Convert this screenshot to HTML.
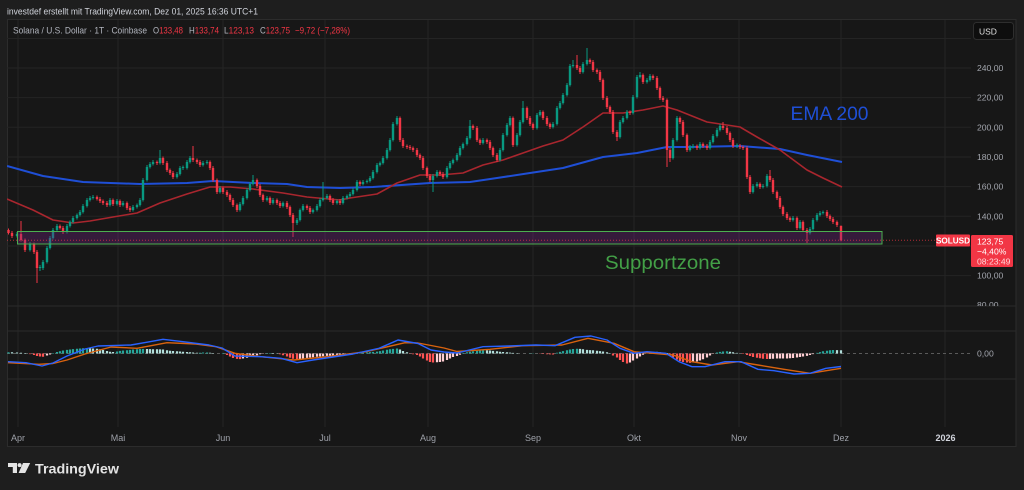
<!DOCTYPE html>
<html><head><meta charset="utf-8">
<style>
html,body{margin:0;padding:0;background:#1e1e1e;}
svg{display:block;font-family:"Liberation Sans",sans-serif;}
</style></head>
<body>
<svg width="1024" height="490" viewBox="0 0 1024 490" xmlns="http://www.w3.org/2000/svg">
<defs>
<clipPath id="mp"><rect x="7" y="20" width="964" height="286"/></clipPath>
<clipPath id="ax"><rect x="971" y="20" width="45" height="286"/></clipPath>
</defs>
<rect x="0" y="0" width="1024" height="490" fill="#1e1e1e"/>
<rect x="7.5" y="19.5" width="1008.5" height="427" fill="#171717" stroke="#2c2c2c" stroke-width="1"/>

<g stroke="#242424" stroke-width="1">
<line x1="18" y1="20" x2="18" y2="427"/>
<line x1="118" y1="20" x2="118" y2="427"/>
<line x1="223" y1="20" x2="223" y2="427"/>
<line x1="325" y1="20" x2="325" y2="427"/>
<line x1="428" y1="20" x2="428" y2="427"/>
<line x1="533" y1="20" x2="533" y2="427"/>
<line x1="634" y1="20" x2="634" y2="427"/>
<line x1="739" y1="20" x2="739" y2="427"/>
<line x1="841" y1="20" x2="841" y2="427"/>
<line x1="945" y1="20" x2="945" y2="427"/>
</g>
<g stroke="#242424" stroke-width="1">
<line x1="7" y1="38.5" x2="971" y2="38.5"/>
<line x1="7" y1="68" x2="971" y2="68"/>
<line x1="7" y1="97.6" x2="971" y2="97.6"/>
<line x1="7" y1="127.3" x2="971" y2="127.3"/>
<line x1="7" y1="157" x2="971" y2="157"/>
<line x1="7" y1="186.6" x2="971" y2="186.6"/>
<line x1="7" y1="216.3" x2="971" y2="216.3"/>
<line x1="7" y1="246" x2="971" y2="246"/>
<line x1="7" y1="275.6" x2="971" y2="275.6"/>
</g>
<g stroke="#2b2b2b" stroke-width="1">
<line x1="7" y1="306" x2="1016" y2="306"/>
<line x1="7" y1="331" x2="1016" y2="331"/>
<line x1="7" y1="379" x2="1016" y2="379"/>
</g>

<text x="7" y="14.5" font-size="9.2" fill="#d1d4dc" textLength="251" lengthAdjust="spacingAndGlyphs">investdef erstellt mit TradingView.com, Dez 01, 2025 16:36 UTC+1</text>
<text x="13" y="33.5" font-size="9.2" fill="#b2b5be" textLength="134" lengthAdjust="spacingAndGlyphs">Solana / U.S. Dollar · 1T · Coinbase</text>
<g font-size="9.2" fill="#f23645">
<text x="153" y="33.5" textLength="30" lengthAdjust="spacingAndGlyphs"><tspan fill="#b2b5be">O</tspan>133,48</text>
<text x="189" y="33.5" textLength="30" lengthAdjust="spacingAndGlyphs"><tspan fill="#b2b5be">H</tspan>133,74</text>
<text x="224" y="33.5" textLength="30" lengthAdjust="spacingAndGlyphs"><tspan fill="#b2b5be">L</tspan>123,13</text>
<text x="260" y="33.5" textLength="30" lengthAdjust="spacingAndGlyphs"><tspan fill="#b2b5be">C</tspan>123,75</text>
<text x="295" y="33.5" textLength="55" lengthAdjust="spacingAndGlyphs">−9,72 (−7,28%)</text>
</g>

<g clip-path="url(#mp)" fill="none" stroke-linejoin="round">
<polyline stroke="#1f4fd6" stroke-width="2" points="7,166 43,176 83,182 140,184 187,183 213,181 253,183 287,184 307,187 340,188 373,187 430,183 470,182 497,178 530,173 563,168 603,157 637,153 667,147 690,147 740,146 780,149 807,155 842,162"/>
<polyline stroke="#a9262e" stroke-width="1.6" points="7,199 33,210 53,220 73,223 90,221 113,217 137,213 160,203 187,194 210,187 230,187 253,189 283,193 307,197 340,200 350,198 377,194 397,183 420,175 440,175 463,173 483,165 503,160 523,153 543,146 563,140 583,127 603,113 623,113 643,110 663,106 677,110 707,122 740,127 757,137 780,150 807,170 823,178 842,187"/>
</g>

<g clip-path="url(#mp)" fill="none">
<path stroke="#089981" stroke-width="1" d="M17 232V237.5M30 242V251.5M40 265V271M43 260V270M47 246V263.5M50 236V249.5M53 228V239.5M57 224V231.5M67 224V233.5M70 220.5V227.5M73 216V223.5M77 213.5V219.5M80 210V216.5M83 204V213.5M87 198V207.5M90 196V201.5M93 195V199.5M110 198V206.5M117 199V205.5M123 201V206.5M133 205V211.5M137 203.5V208.5M140 198V206.5M143 178V201.5M147 165V181.5M150 162V168.5M153 160V165.5M160 150V164.5M177 172V178.5M180 166V175.5M183 165.5V170M187 160V169.5M190 156V163.5M203 161V166.5M207 160V164.5M220 186V193.5M240 202V211.5M243 196V205.5M247 188V199.5M250 182V191.5M253 175V185.5M267 196V201.5M273 198V204.5M283 201.5V207.5M297 218V225M300 208.5V221.5M303 204V211.5M313 208.5V213.5M317 204V211.5M320 198V207.5M323 182V201.5M327 194V199.5M337 199.5V204.5M343 196V204.5M347 194.5V199.5M350 192V197.5M353 188V195.5M357 180V191.5M363 180V185.5M367 179.5V183.5M370 176V182.5M373 170V179.5M377 163V173.5M380 161.5V166.5M383 156V164.5M387 148V159.5M390 138V151.5M393 122V141.5M397 116V125.5M433 174V192M437 170V177.5M447 166V178.5M450 161V169.5M453 158.5V164.5M457 153V161.5M460 146V156.5M463 142.5V149.5M467 136V145.5M470 120V139.5M483 138V144.5M500 148V161.5M503 133V151.5M507 123V136.5M510 116V126.5M517 133V146.5M520 120V136.5M523 101V123.5M537 113V129.5M540 110V116.5M553 122V128.5M557 106V125.5M560 101V109.5M563 93V104.5M567 83V96.5M570 64V86.5M573 60V67.5M583 62V73.5M587 48V65.5M620 120V138.5M623 116V123.5M627 110V119.5M633 95V114.5M637 75V98.5M640 72V78.5M647 78V83.5M650 74V81.5M673 138V159.5M677 116V141.5M690 145V151.5M693 144V148.5M700 142V149.5M710 140V149.5M713 134V143.5M717 128V137.5M720 124V131.5M737 143.5V148M753 184V193.5M757 182V187.5M763 184V188.5M767 174V187.5M793 216V221.5M800 220V229.5M810 227V234.5M813 218V230.5M817 213V221.5M820 211V216.5M823 210.5V214.5"/>
<path stroke="#089981" stroke-width="2.4" d="M17 234V236M30 244V250M40 267V268M43 262V268M47 248V262M50 238V248M53 230V238M57 226V230M67 226V232M70 222V226M73 218V222M77 215V218M80 212V215M83 206V212M87 200V206M90 198V200M93 197V198M110 200V205M117 201V204M123 203V205M133 207V210M137 205V207M140 200V205M143 180V200M147 167V180M150 164V167M153 162V164M160 158V163M177 174V177M180 168V174M183 167V168M187 162V168M190 158V162M203 163V165M207 162V163M220 188V192M240 204V210M243 198V204M247 190V198M250 184V190M253 180V184M267 198V200M273 200V203M283 203V206M297 220V223M300 210V220M303 206V210M313 210V212M317 206V210M320 200V206M323 198V200M327 196V198M337 201V203M343 198V203M347 196V198M350 194V196M353 190V194M357 182V190M363 182V184M367 181V182M370 178V181M373 172V178M377 165V172M380 163V165M383 158V163M387 150V158M390 140V150M393 124V140M397 118V124M433 176V180M437 172V176M447 168V177M450 163V168M453 160V163M457 155V160M460 148V155M463 144V148M467 138V144M470 126V138M483 140V143M500 150V160M503 135V150M507 125V135M510 118V125M517 135V145M520 122V135M523 108V122M537 115V128M540 112V115M553 124V127M557 108V124M560 103V108M563 95V103M567 85V95M570 66V85M573 65V66M583 64V72M587 60V64M620 122V137M623 118V122M627 112V118M633 97V113M637 77V97M640 75V77M647 80V82M650 76V80M673 140V158M677 118V140M690 147V150M693 146V147M700 144V148M710 142V148M713 136V142M717 130V136M720 126V130M737 145V146M753 186V192M757 184V186M763 186V187M767 176V186M793 218V220M800 222V228M810 229V233M813 220V229M817 215V220M820 213V215M823 212V213"/>
<path stroke="#f23645" stroke-width="1" d="M8.5 228.5V234.5M12 231V238M21 221V241.5M25 238.5V252M34 242.5V254M37 250V283M60 224.5V229.5M63 226V234M97 195.5V200.5M100 197V203M103 199.5V205M107 201V207M113 198.5V206M120 199.5V207M127 201.5V210M130 206V212M157 160.5V165M163 156.5V165M167 161V172M170 168.5V175M173 171V179M193 146V162M197 158.5V164M200 160V167M210 160.5V170M213 166V182M217 178.5V194M223 186.5V194M227 190V197M230 193.5V202M233 198V207M237 203.5V212M257 178.5V188M260 184V197M263 193.5V202M270 196.5V205M277 198.5V205M280 201V208M287 201V209M290 205.5V217M293 213V237M307 204.5V210M310 206V214M330 194.5V202M333 198V205M340 199V205M360 180.5V186M400 116.5V142M403 138V148M407 144.5V149M410 145V150M413 146.5V152M417 148V157M420 153.5V160M423 156V170M427 166.5V178M430 174V182M440 170.5V176M443 172V179M473 124.5V130M477 126V142M480 138.5V145M487 138.5V144M490 140V150M493 146.5V157M497 153V162M513 116.5V147M527 106.5V120M530 116V126M533 122.5V130M543 110.5V120M547 116V126M550 122.5V129M577 55V70M580 66V74M590 58.5V64M593 60V72M597 68.5V74M600 70V82M603 78.5V100M607 96V109M610 105.5V114M613 110V134M617 130V141M630 110.5V115M643 73.5V84M653 74.5V80M657 76V90M660 86.5V100M663 96V102M667 98.5V167M670 148V162M680 116.5V124M683 120V137M687 133.5V152M697 144.5V150M703 142.5V148M707 144V150M723 122V130M727 126V135M730 131.5V142M733 138V148M740 144V149M743 145.5V150M747 146V179M750 175V194M760 182.5V189M770 170V182M773 178V194M777 190.5V200M780 196V209M783 205.5V216M787 212V220M790 216.5V222M797 216.5V230M803 220.5V232M807 228V243M827 210V218M830 214.5V221M833 217V224M837 220.5V227M841 225.5V241.2"/>
<path stroke="#f23645" stroke-width="2.4" d="M8.5 230V233M12 233V236M21 234V240M25 240V250M34 244V252M37 252V268M60 226V228M63 228V232M97 197V199M100 199V201M103 201V203M107 203V205M113 200V204M120 201V205M127 203V208M130 208V210M157 162V163M163 158V163M167 163V170M170 170V173M173 173V177M193 158V160M197 160V162M200 162V165M210 162V168M213 168V180M217 180V192M223 188V192M227 192V195M230 195V200M233 200V205M237 205V210M257 180V186M260 186V195M263 195V200M270 198V203M277 200V203M280 203V206M287 203V207M290 207V215M293 215V223M307 206V208M310 208V212M330 196V200M333 200V203M340 201V203M360 182V184M400 118V140M403 140V146M407 146V147M410 147V148M413 148V150M417 150V155M420 155V158M423 158V168M427 168V176M430 176V180M440 172V174M443 174V177M473 126V128M477 128V140M480 140V143M487 140V142M490 142V148M493 148V155M497 155V160M513 118V145M527 108V118M530 118V124M533 124V128M543 112V118M547 118V124M550 124V127M577 65V68M580 68V72M590 60V62M593 62V70M597 70V72M600 72V80M603 80V98M607 98V107M610 107V112M613 112V132M617 132V137M630 112V113M643 75V82M653 76V78M657 78V88M660 88V98M663 98V100M667 100V150M670 150V158M680 118V122M683 122V135M687 135V150M697 146V148M703 144V146M707 146V148M723 126V128M727 128V133M730 133V140M733 140V146M740 146V147M743 147V148M747 148V177M750 177V192M760 184V187M770 176V180M773 180V192M777 192V198M780 198V207M783 207V214M787 214V218M790 218V220M797 218V228M803 222V230M807 230V233M827 212V216M830 216V219M833 219V222M837 222V225M841 225.9V240.3"/>
</g>

<rect x="17.5" y="231.5" width="864.5" height="12.5" fill="rgba(118,38,138,0.32)" stroke="#4caf50" stroke-width="1"/>
<line x1="7" y1="240.3" x2="936" y2="240.3" stroke="#f23645" stroke-width="1" stroke-dasharray="1 2" opacity="0.7"/>

<text x="790.5" y="120" font-size="19.5" fill="#1f4fd6" textLength="78" lengthAdjust="spacingAndGlyphs">EMA 200</text>
<text x="605" y="269" font-size="19.5" fill="#43a047" textLength="116" lengthAdjust="spacingAndGlyphs">Supportzone</text>

<rect x="973.5" y="22.5" width="40" height="17" rx="3" fill="#0e0e0e" stroke="#2e2e2e"/>
<text x="979" y="34.5" font-size="8.5" fill="#e0e0e0">USD</text>
<g font-size="8.6" fill="#a3a6ae" clip-path="url(#ax)">
<text x="977" y="71">240,00</text>
<text x="977" y="100.6">220,00</text>
<text x="977" y="130.3">200,00</text>
<text x="977" y="160">180,00</text>
<text x="977" y="189.6">160,00</text>
<text x="977" y="219.3">140,00</text>
<text x="977" y="278.6">100,00</text>
<text x="977" y="308.2">80,00</text>
</g>
<rect x="936" y="234.5" width="34" height="12" rx="1" fill="#f23645"/>
<text x="953" y="243.5" font-size="8.2" font-weight="bold" fill="#ffffff" text-anchor="middle">SOLUSD</text>
<rect x="971" y="235" width="42" height="32" rx="1.5" fill="#f23645"/>
<g font-size="8.6" fill="#ffffff">
<text x="977" y="244.5">123,75</text>
<text x="977" y="254.5">−4,40%</text>
<text x="977" y="264.5" fill="#ffd6da">08:23:49</text>
</g>

<line x1="7" y1="353.5" x2="970" y2="353.5" stroke="#5a5a5a" stroke-width="1" stroke-dasharray="3 3"/>
<g fill="none" stroke-width="2.2">
<path stroke="#26a69a" d="M8.5 353.5V352.3M53 353.5V353M57 353.5V352M60 353.5V351.3M63 353.5V350.5M67 353.5V349.9M70 353.5V349.5M73 353.5V349.1M77 353.5V348.7M80 353.5V348.5M83 353.5V348.3M87 353.5V348.1M117 353.5V351.5M120 353.5V350.9M123 353.5V350.5M127 353.5V350.2M130 353.5V349.9M133 353.5V349.5M137 353.5V349.2M140 353.5V349M143 353.5V348.9M200 353.5V352.7M203 353.5V352.5M207 353.5V352.5M223 353.5V353M267 353.5V353.1M270 353.5V353M357 353.5V353.1M360 353.5V352.8M363 353.5V352.6M367 353.5V352.4M370 353.5V352.1M373 353.5V351.9M377 353.5V351.6M380 353.5V351.1M383 353.5V350.5M387 353.5V349.7M390 353.5V349.3M393 353.5V348.9M397 353.5V348.5M463 353.5V352.9M467 353.5V352.3M470 353.5V351.7M473 353.5V351.2M477 353.5V350.7M480 353.5V350.3M483 353.5V350.1M530 353.5V353.2M533 353.5V353.2M557 353.5V352.7M560 353.5V351.9M563 353.5V351.1M567 353.5V350.3M570 353.5V349.5M573 353.5V349M577 353.5V348.7M647 353.5V352.5M650 353.5V352M653 353.5V351.7M717 353.5V352.5M720 353.5V351.9M723 353.5V351.5M727 353.5V351.3M817 353.5V352.9M820 353.5V352.1M823 353.5V351.3M827 353.5V350.7M830 353.5V350.3M833 353.5V350"/>
<path stroke="#b2dfdb" d="M12 353.5V352.3M17 353.5V352.5M21 353.5V352.7M25 353.5V353M90 353.5V348.3M93 353.5V348.5M97 353.5V348.7M100 353.5V349.3M103 353.5V350M107 353.5V351M110 353.5V351.7M113 353.5V352M147 353.5V349M150 353.5V349.1M153 353.5V349.2M157 353.5V349.3M160 353.5V349.4M163 353.5V349.5M167 353.5V350.3M170 353.5V350.7M173 353.5V351M177 353.5V351.3M180 353.5V351.5M183 353.5V351.7M187 353.5V352M190 353.5V352.2M193 353.5V352.5M197 353.5V352.8M210 353.5V352.7M213 353.5V353.1M273 353.5V353M277 353.5V353.2M400 353.5V349.5M403 353.5V351M407 353.5V352.3M487 353.5V350.3M490 353.5V350.5M493 353.5V350.9M497 353.5V351.3M500 353.5V351.7M503 353.5V352M507 353.5V352.3M510 353.5V352.6M513 353.5V352.9M517 353.5V353.1M580 353.5V348.9M583 353.5V349.3M587 353.5V349.9M590 353.5V350.1M593 353.5V350.3M597 353.5V350.7M600 353.5V351.1M603 353.5V351.5M607 353.5V352.3M610 353.5V353.1M657 353.5V351.9M660 353.5V352.2M663 353.5V352.5M667 353.5V353M730 353.5V351.7M733 353.5V352.3M737 353.5V352.9M837 353.5V350.1M841 353.5V350.2"/>
<path stroke="#ff5252" d="M30 353.5V354.1M34 353.5V355M37 353.5V356M40 353.5V356.5M43 353.5V356.7M227 353.5V355M230 353.5V356.5M233 353.5V358M237 353.5V358.9M240 353.5V359.1M280 353.5V354.3M283 353.5V355.3M287 353.5V356.5M290 353.5V357.7M293 353.5V358.7M297 353.5V359.5M410 353.5V353.8M413 353.5V354.3M417 353.5V355M420 353.5V356.5M423 353.5V358.5M427 353.5V360.5M430 353.5V362M433 353.5V362.5M540 353.5V353.8M543 353.5V354M547 353.5V354.2M550 353.5V354.4M553 353.5V354.5M613 353.5V355.5M617 353.5V357.5M620 353.5V360M623 353.5V362M627 353.5V363.5M670 353.5V355.5M673 353.5V357.5M677 353.5V359.5M680 353.5V361M683 353.5V362M687 353.5V362.5M690 353.5V362.9M743 353.5V354M747 353.5V355M750 353.5V356M753 353.5V357M757 353.5V357.7M760 353.5V358.3M763 353.5V358.7M767 353.5V359"/>
<path stroke="#ffcdd2" d="M47 353.5V355.5M50 353.5V354.5M243 353.5V358.5M247 353.5V357.7M250 353.5V356.9M253 353.5V356M257 353.5V355.2M260 353.5V354.3M263 353.5V353.9M300 353.5V359.1M303 353.5V358.5M307 353.5V357.9M310 353.5V357.5M313 353.5V357.3M317 353.5V356.8M320 353.5V356.5M323 353.5V356.2M327 353.5V355.9M330 353.5V355.7M333 353.5V355.5M337 353.5V355.3M340 353.5V355.1M343 353.5V354.9M347 353.5V354.8M350 353.5V354.7M353 353.5V354.5M437 353.5V362.3M440 353.5V362M443 353.5V361.5M447 353.5V360M450 353.5V358.5M453 353.5V357M457 353.5V356M460 353.5V354.7M630 353.5V362.5M633 353.5V360.5M637 353.5V358.5M640 353.5V356.5M643 353.5V354.7M693 353.5V362.5M697 353.5V361.5M700 353.5V360.5M703 353.5V359.3M707 353.5V357.5M710 353.5V355.5M713 353.5V354M770 353.5V358.9M773 353.5V358.7M777 353.5V358.5M780 353.5V358.5M783 353.5V358.5M787 353.5V358.5M790 353.5V358.3M793 353.5V358M797 353.5V357.5M800 353.5V357M803 353.5V356.5M807 353.5V355.9M810 353.5V355M813 353.5V354.1"/>
</g>
<g fill="none" stroke-linejoin="round">
<polyline stroke="#d9630f" stroke-width="1.4" points="8,362.7 39,364.3 53,363.5 67,360 85,354 111,347 137,348.3 167,342.7 196,344 216,346.7 235,353.3 261,356.7 294,360 327,356.7 366,351.7 405,342.7 418,343 431,345.5 444,348 457,351.5 490,349.3 523,345.7 562,345 588,338.3 614,343.3 634,351.7 653,353.3 673,355 692,361.7 712,365 738,361.7 758,365 784,369.3 810,373.3 841,368.3"/>
<polyline stroke="#2962ff" stroke-width="1.4" points="8,361.7 26,362.7 42,366 53,363 67,356 85,349 98,346 131,345 150,341.7 163,339.3 183,341.7 209,345 222,348 235,356 261,356.7 281,358.3 297,362.7 313,360 353,354 379,348.3 392,342.7 398,340 418,343.5 431,350 444,352 457,353 483,346.7 509,346 536,345 555,345.7 575,337.3 591,336 607,340 620,348.3 634,353.3 647,351.7 666,353.3 679,361.7 692,366.7 705,366.7 725,361.7 741,361.7 758,369.3 774,370.7 794,374 810,373.3 826,368.3 841,366.5"/>
</g>
<text x="977" y="356.5" font-size="8.6" fill="#a3a6ae">0,00</text>

<g font-size="9" fill="#9ea1a9" text-anchor="middle">
<text x="18" y="441">Apr</text>
<text x="118" y="441">Mai</text>
<text x="223" y="441">Jun</text>
<text x="325" y="441">Jul</text>
<text x="428" y="441">Aug</text>
<text x="533" y="441">Sep</text>
<text x="634" y="441">Okt</text>
<text x="739" y="441">Nov</text>
<text x="841" y="441">Dez</text>
<text x="945.5" y="441" font-weight="bold" fill="#d1d4dc">2026</text>
</g>

<g fill="#e4e4e4">
<path d="M8 463 H17 V473 H12.8 V467 H8 Z"/>
<circle cx="19.6" cy="465.1" r="2"/>
<path d="M23 463 H30.2 L25.2 473 H18.6 Z"/>
</g>
<text x="35" y="473.5" font-size="14" font-weight="bold" fill="#e4e4e4" textLength="84" lengthAdjust="spacingAndGlyphs">TradingView</text>
</svg>
</body></html>
